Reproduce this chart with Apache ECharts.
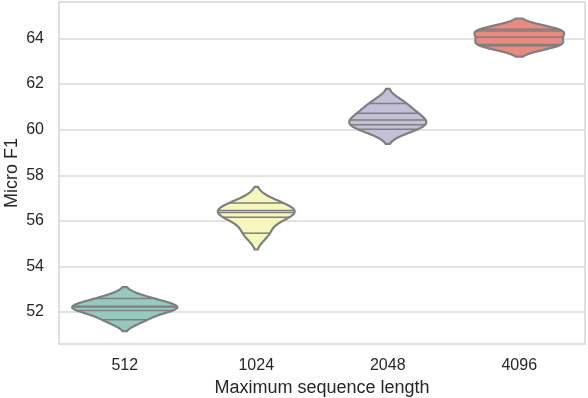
<!DOCTYPE html>
<html>
<head>
<meta charset="utf-8">
<script src="https://cdn.jsdelivr.net/npm/echarts@6/dist/echarts.min.js"></script>
<style>html,body{margin:0;padding:0;background:#fff}#c{width:588px;height:398px}</style>
</head>
<body>
<div id="c"></div>
<script>
// ---- data ----
var categories = ['512', '1024', '2048', '4096'];
var obs512  = [52.60, 52.26, 52.22, 52.07, 51.66];
var obs1024 = [56.78, 56.46, 56.37, 56.16, 55.46];
var obs2048 = [61.15, 60.72, 60.42, 60.22, 60.02];
var obs4096 = [64.40, 64.33, 64.05, 63.74, 63.68];
var yTicks = [52, 54, 56, 58, 60, 62, 64];
var colors = ['#96cac1', '#f6f6bd', '#c3c0d8', '#e88b80'];
var groups = [obs512, obs1024, obs2048, obs4096];

// ---- KDE (gaussian, Scott bandwidth, cut=2, gridsize=100) like seaborn ----
function kde(data) {
  var n = data.length;
  var mean = data.reduce(function(a, b){return a + b;}, 0) / n;
  var v = data.reduce(function(a, b){return a + (b - mean) * (b - mean);}, 0) / (n - 1);
  var bw = Math.sqrt(v) * Math.pow(n, -0.2);
  var lo = Math.min.apply(null, data) - 2 * bw, hi = Math.max.apply(null, data) + 2 * bw;
  var support = [], dens = [];
  for (var i = 0; i < 100; i++) {
    var y = lo + (hi - lo) * i / 99;
    var s = 0;
    for (var j = 0; j < n; j++) { var z = (y - data[j]) / bw; s += Math.exp(-0.5 * z * z); }
    support.push(y); dens.push(s / (n * bw * Math.sqrt(2 * Math.PI)));
  }
  return {support: support, dens: dens};
}
var kdes = groups.map(kde);
var maxD = 0;
kdes.forEach(function(k){ k.dens.forEach(function(d){ if (d > maxD) maxD = d; }); });

function renderItem(params, api) {
  var idx = api.value(0);
  var k = kdes[idx];
  var band = api.size([1, 0])[0];
  var half = band * 0.4;
  var cx = api.coord([idx, k.support[0]])[0];
  var left = [], right = [];
  for (var i = 0; i < k.support.length; i++) {
    var py = api.coord([idx, k.support[i]])[1];
    var w = k.dens[i] / maxD * half;
    left.push([cx - w, py]);
    right.push([cx + w, py]);
  }
  var pts = left.concat(right.reverse());
  var children = [{
    type: 'polygon',
    shape: {points: pts},
    style: {fill: colors[idx], stroke: '#7f7f7f', lineWidth: 2.2}
  }];
  groups[idx].forEach(function(val){
    var best = 0, bd = Infinity;
    for (var i = 0; i < k.support.length; i++) {
      var d = Math.abs(k.support[i] - val);
      if (d < bd) { bd = d; best = i; }
    }
    var w = k.dens[best] / maxD * half * 0.99;
    var py = api.coord([idx, val])[1];
    children.push({
      type: 'line',
      shape: {x1: cx - w, y1: py, x2: cx + w, y2: py},
      style: {stroke: '#7f7f7f', lineWidth: 1.5}
    });
  });
  return {type: 'group', children: children};
}

var chart = echarts.init(document.getElementById('c'), null, {renderer: 'canvas'});
chart.setOption({
  animation: false,
  backgroundColor: '#ffffff',
  grid: {left: 59, right: 3, top: 2, bottom: 54, show: true, borderColor: '#d5d5d5', borderWidth: 1.5,
         containLabel: false, outerBoundsMode: 'none'},
  xAxis: {
    type: 'category', data: categories, boundaryGap: true,
    axisLine: {show: false}, axisTick: {show: false},
    axisLabel: {color: '#262626', fontSize: 16, fontFamily: 'Liberation Sans', margin: 14},
    name: 'Maximum sequence length', nameLocation: 'middle', nameGap: 34,
    nameTextStyle: {color: '#262626', fontSize: 18, fontFamily: 'Liberation Sans'},
    splitLine: {show: false}
  },
  yAxis: {
    type: 'value', min: 50.6, max: 65.6,
    axisLine: {show: false},
    axisTick: {show: false, customValues: yTicks},
    axisLabel: {color: '#262626', fontSize: 16, fontFamily: 'Liberation Sans', margin: 15, customValues: yTicks},
    splitLine: {show: true, lineStyle: {color: '#d9d9d9', width: 1.5}},
    name: 'Micro F1', nameLocation: 'middle', nameGap: 38, nameMoveOverlap: false,
    nameTextStyle: {color: '#262626', fontSize: 18, fontFamily: 'Liberation Sans'}
  },
  series: [{
    type: 'custom',
    renderItem: renderItem,
    data: [[0], [1], [2], [3]],
    encode: {x: 0},
    clip: true
  }]
});
</script>
</body>
</html>
